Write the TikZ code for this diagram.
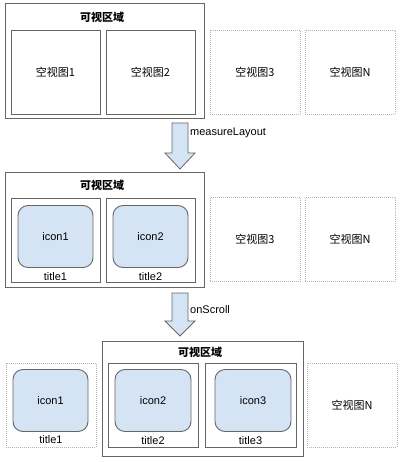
\documentclass[tikz,border=0pt]{standalone}
\usepackage{fontspec}
\setmainfont{Liberation Sans}
\newfontfamily\cjk{Noto Sans CJK SC}
\usepackage{tikz}
\usetikzlibrary{positioning}
\definecolor{boxgray}{HTML}{666666}
\definecolor{dotgray}{HTML}{B3B3B3}
\definecolor{iconblue}{HTML}{D4E4F5}
\tikzset
{
  areabox/.style={draw=boxgray,line width=1pt,minimum width=199pt,minimum height=115pt,inner sep=0pt},
  viewbox/.style={draw=boxgray,line width=1pt,minimum width=89pt,minimum height=84pt,inner sep=0pt},
  emptybox/.style={draw=dotgray,line width=0.9pt,dash pattern=on 1pt off 1pt,minimum width=90pt,minimum height=84pt,inner sep=0pt},
  iconbox/.style={draw=boxgray,fill=iconblue,line width=0.9pt,rounded corners=10pt,minimum width=75pt,minimum height=62pt,inner sep=0pt},
  flowarrow/.style={draw=boxgray,fill=iconblue,line width=0.8pt,line join=miter},
  cn/.style={font=\cjk\fontsize{11pt}{13pt}\selectfont},
  cntitle/.style={font=\cjk\bfseries\fontsize{11pt}{13pt}\selectfont},
  en/.style={font=\fontsize{11pt}{13pt}\selectfont}
}

\begin{document}
\begin{tikzpicture}[x=1pt,y=-1pt]
        \useasboundingbox (0,0) rectangle (404,462);

        % Row 1: before measure
        \node[areabox] (area1) at (104.5,61.5) {};
        \node[cntitle] (area1title) at (102,17) {可视区域};
        \node[viewbox,cn] (v11) at (55.5,72.5) {空视图1};
        \node[viewbox,cn] (v12) at (150.5,72.5) {空视图2};
        \node[emptybox,cn] (v13) at (255,72) {空视图3};
        \node[emptybox,cn] (v1n) at (350,72) {空视图N};

        % measureLayout arrow
        \coordinate (arr1) at (180,123);
        \draw[flowarrow] (arr1) ++(-8,0) -- ++(16,0) -- ++(0,30) -- ++(7,0) -- ++(-15,16) -- ++(-15,-16) -- ++(7,0) -- cycle;
        \node[en,anchor=west,inner sep=2pt] (lbl1) at (188,133) {measureLayout};

        % Row 2: after measure
        \node[areabox] (area2) at (104.5,230) {};
        \node[cntitle] (area2title) at (102,185) {可视区域};
        \node[viewbox] (v21) at (55.5,240) {};
        \node[viewbox] (v22) at (150.5,240) {};
        \node[iconbox,en] (icon21) at (55.5,236.5) {icon1};
        \node[iconbox,en] (icon22) at (150.5,236.5) {icon2};
        \node[en,inner sep=0pt] (title21) at (55.5,276.5) {title1};
        \node[en,inner sep=0pt] (title22) at (150.5,276.5) {title2};
        \node[emptybox,cn] (v23) at (255,239.5) {空视图3};
        \node[emptybox,cn] (v2n) at (350,239.5) {空视图N};

        % onScroll arrow
        \coordinate (arr2) at (180,293);
        \draw[flowarrow] (arr2) ++(-8,0) -- ++(16,0) -- ++(0,28) -- ++(7,0) -- ++(-15,15) -- ++(-15,-15) -- ++(7,0) -- cycle;
        \node[en,anchor=west,inner sep=2pt] (lbl2) at (188,310) {onScroll};

        % Row 3: after scroll
        \node[areabox,minimum width=201pt] (area3) at (202.5,398.5) {};
        \node[cntitle] (area3title) at (200,352) {可视区域};
        \node[emptybox] (v31) at (51,405) {};
        \node[viewbox,minimum width=90pt] (v32) at (153,405) {};
        \node[viewbox,minimum width=91pt] (v33) at (250.5,405) {};
        \node[iconbox,en] (icon31) at (50.5,400.5) {icon1};
        \node[iconbox,en,minimum width=76pt] (icon32) at (153,400.5) {icon2};
        \node[iconbox,en,minimum width=76pt] (icon33) at (253,400.5) {icon3};
        \node[en,inner sep=0pt] (title31) at (51,440) {title1};
        \node[en,inner sep=0pt] (title32) at (153,441) {title2};
        \node[en,inner sep=0pt] (title33) at (250.5,441) {title3};
        \node[emptybox,cn] (v3n) at (352,405) {空视图N};
    \end{tikzpicture}
\end{document}
